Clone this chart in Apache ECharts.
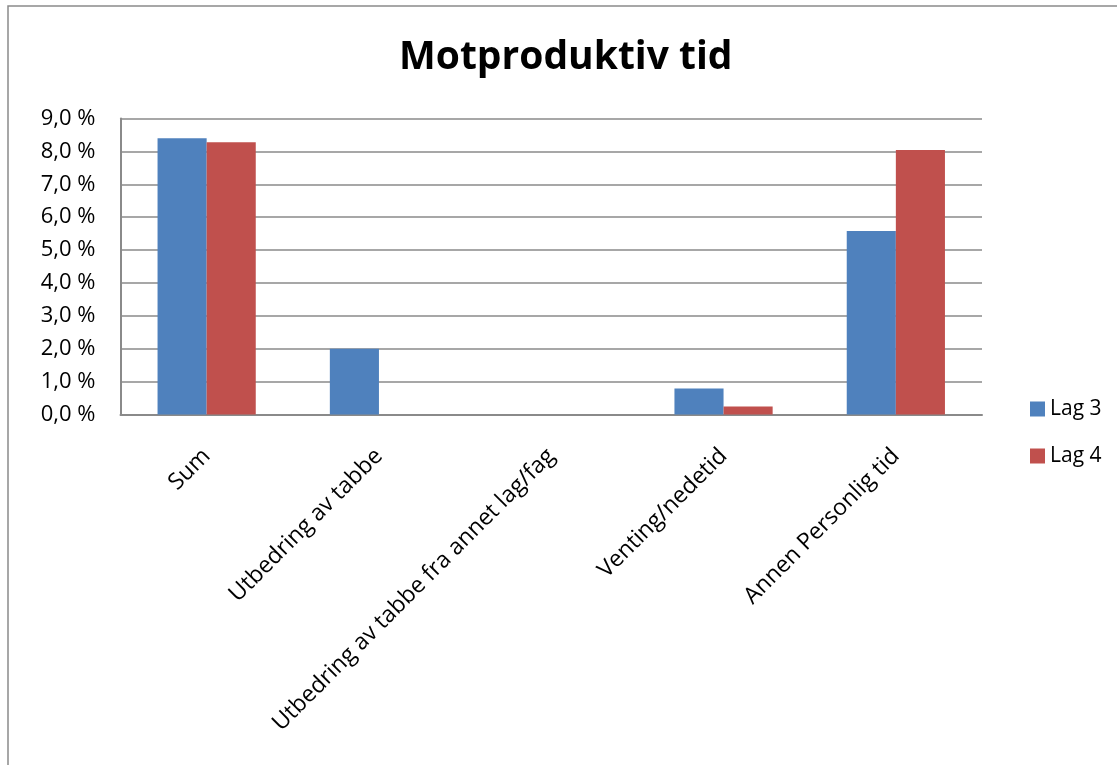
<!DOCTYPE html>
<html>
<head>
<meta charset="utf-8">
<script src="https://cdn.jsdelivr.net/npm/echarts@6/dist/echarts.min.js"></script>
<style>
html,body{margin:0;padding:0;background:#fff;}
#chart{width:1117px;height:765px;}
</style>
</head>
<body>
<div id="chart"></div>
<script>
const titleText = 'Motproduktiv tid';
const categories = ['Sum', 'Utbedring av tabbe', 'Utbedring av tabbe fra annet lag/fag', 'Venting/nedetid', 'Annen Personlig tid'];
const lag3 = [8.4, 2.0, 0, 0.79, 5.58];
const lag4 = [8.28, 0, 0, 0.24, 8.04];
const yTicks = [0, 1, 2, 3, 4, 5, 6, 7, 8, 9];

const FONT = '"Open Sans", Lato, sans-serif';
const chart = echarts.init(document.getElementById('chart'));
chart.setOption({
  animation: false,
  backgroundColor: '#fff',
  graphic: [{
    type: 'rect',
    shape: { x: 8, y: 6, width: 1130, height: 790 },
    style: { fill: 'none', stroke: '#8a8a8a', lineWidth: 1.5 },
    silent: true
  }],
  title: {
    text: titleText,
    left: 394,
    top: 33,
    textStyle: { fontFamily: FONT, fontSize: 39, fontWeight: 'bold', color: '#000' }
  },
  legend: {
    orient: 'vertical',
    left: 1025,
    top: 393,
    itemWidth: 15,
    itemHeight: 15,
    itemGap: 25,
    icon: 'rect',
    textStyle: { fontFamily: FONT, fontSize: 21, color: '#000', lineHeight: 22 },
    data: ['Lag 3', 'Lag 4']
  },
  grid: { left: 120.5, right: 135, top: 118.5, bottom: 350.5, containLabel: false },
  xAxis: {
    type: 'category',
    data: categories,
    axisLine: { show: true, lineStyle: { color: '#8a8a8a', width: 2 } },
    axisTick: { show: false },
    axisLabel: { rotate: 45, fontFamily: FONT, fontSize: 23, color: '#000', margin: 38, interval: 0 }
  },
  yAxis: {
    type: 'value',
    min: yTicks[0],
    max: yTicks[yTicks.length - 1],
    interval: 1,
    axisLine: { show: true, lineStyle: { color: '#8a8a8a', width: 2 } },
    axisTick: { show: false },
    splitLine: { show: true, lineStyle: { color: '#8a8a8a', width: 1.5 } },
    axisLabel: {
      fontFamily: FONT, fontSize: 22, color: '#000', margin: 25,
      formatter: v => v.toFixed(1).replace('.', ',') + ' %'
    }
  },
  series: [
    { name: 'Lag 3', type: 'bar', data: lag3, barGap: '0%', barCategoryGap: '43%', itemStyle: { color: '#4F81BD' } },
    { name: 'Lag 4', type: 'bar', data: lag4, barGap: '0%', barCategoryGap: '43%', itemStyle: { color: '#C0504D' } }
  ]
});
</script>
</body>
</html>
